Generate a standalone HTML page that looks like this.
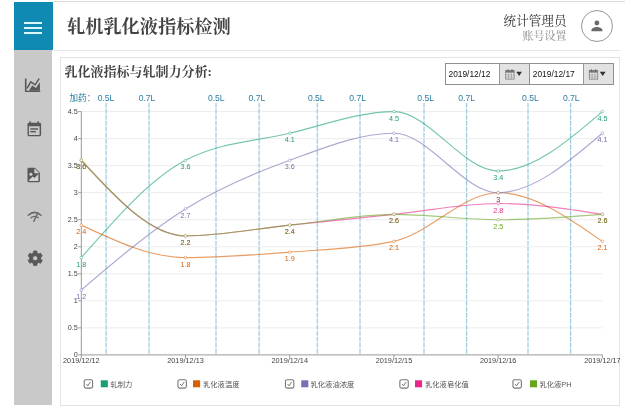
<!DOCTYPE html>
<html lang="zh-CN"><head><meta charset="utf-8"><title>轧机乳化液指标检测</title>
<style>
html,body{margin:0;padding:0;background:#fff;}
body{width:640px;height:411px;position:relative;overflow:hidden;font-family:"Liberation Sans","Noto Sans CJK SC",sans-serif;color:#333;}
.menu{position:absolute;left:14px;top:2px;width:39px;height:48px;background:#118ab3;}
.menu i{position:absolute;left:10.2px;width:18px;height:2.4px;background:#d9f7ff;}
.side{position:absolute;left:13.5px;top:50px;width:38.5px;height:355px;background:#c9c9c9;}
.head{position:absolute;left:52.5px;top:0.5px;width:572.5px;height:50px;border-top:1px solid #dcdcdc;background:#fff;box-sizing:border-box;}
.head:after{content:'';position:absolute;left:0;bottom:0;width:567px;height:1px;background:#e6e6e6;}
.title{position:absolute;left:67px;top:14.6px;font-family:"Liberation Serif","Noto Serif CJK SC",serif;font-weight:700;font-size:18.2px;line-height:24px;color:#444;white-space:nowrap;}
.user{position:absolute;right:73.5px;top:13.6px;text-align:right;font-family:"Liberation Serif","Noto Serif CJK SC",serif;white-space:nowrap;}
.user b{display:block;font-weight:400;font-size:12.6px;line-height:15px;color:#333;}
.user span{display:block;font-size:11px;line-height:14px;color:#8a8a8a;margin-top:0.8px;}
.avatar{position:absolute;left:581.4px;top:10.3px;width:32px;height:32px;box-sizing:border-box;border:1px solid #999;border-radius:50%;background:#fff;}
.card{position:absolute;left:59.5px;top:57px;width:560px;height:348.5px;box-sizing:border-box;border:1px solid #e3e3e3;background:#fff;}
.ctitle{position:absolute;left:64.6px;top:63px;font-family:"Liberation Serif","Noto Serif CJK SC",serif;font-weight:700;font-size:13px;line-height:18px;color:#444;white-space:nowrap;}
.date{position:absolute;top:63.4px;height:21.2px;box-sizing:border-box;border:1px solid #8f8f8f;background:#fff;font-size:8.4px;line-height:19px;color:#111;}
.date span{position:absolute;left:2.8px;top:0.4px;}
.date em{position:absolute;right:0;top:0;bottom:0;width:29.4px;background:#e2e2e2;border-left:1px solid #999;}
svg.chart{position:absolute;left:0;top:0;}
.dl{font-size:8.6px;fill:#2a7d9f;font-family:"Liberation Sans","Noto Sans CJK SC",sans-serif;}
.yl{font-size:7.2px;fill:#444;}
.xl{font-size:7.3px;fill:#444;}
.pl{font-size:7.2px;}
.lg{font-size:7.3px;fill:#555;font-family:"Liberation Sans","Noto Sans CJK SC",sans-serif;}
</style></head><body>
<div class="menu"><i style="top:19.6px"></i><i style="top:24.7px"></i><i style="top:30px"></i></div>
<div class="side"></div>
<div class="head"></div>
<div class="title">轧机乳化液指标检测</div>
<div class="user"><b>统计管理员</b><span>账号设置</span></div>
<div class="avatar"></div>
<div class="card"></div>
<div class="ctitle">乳化液指标与轧制力分析:</div>
<div class="date" style="left:444.7px;width:85.3px;"><span>2019/12/12</span><em></em></div>
<div class="date" style="left:529px;width:85.1px;"><span>2019/12/17</span><em></em></div>
<svg class="chart" width="640" height="411" viewBox="0 0 640 411" font-family="Liberation Sans, sans-serif">
<g fill="#585858" stroke="none">
<!-- area chart icon -->
<path d="M24.9,78.6h1.6v12.1h13.8v1.3H24.9z"/>
<path d="M28.9,90.7L32.2,85.6L35.9,87.9L39.9,82.2V90.7z"/>
<path d="M27,88.4L30.8,81.9L35.1,84.8L39.2,78.6" fill="none" stroke="#585858" stroke-width="1.5" stroke-linejoin="miter"/>
<!-- calendar icon -->
<path d="M29.4,121.3h1.4v1.5h6.6v-1.5h1.4v1.5h0.9a1.4,1.4 0 0 1 1.4,1.4v10.6a1.4,1.4 0 0 1 -1.4,1.4h-10.8a1.4,1.4 0 0 1 -1.4,-1.4v-10.6a1.4,1.4 0 0 1 1.4,-1.4h0.5zM28.9,126.2v8.7h10.7v-8.7z" fill-rule="evenodd"/>
<rect x="30.3" y="128.3" width="7.7" height="1.4"/>
<rect x="30.3" y="131" width="5.6" height="1.4"/>
<!-- file image icon -->
<path d="M28.9,167.7h5.9l5.1,5.1v8.1a1.4,1.4 0 0 1 -1.4,1.4h-9.6a1.4,1.4 0 0 1 -1.4,-1.4v-11.8a1.4,1.4 0 0 1 1.4,-1.4z"/>
<path d="M34.4,168.4v4.9h4.9z" fill="#d2d2d2"/>
<circle cx="30.9" cy="174.3" r="1.55" fill="#d2d2d2"/>
<path d="M29.2,181v-1.2l3.6,-3.4l1.6,1.5l4,-3.9v7z" fill="#d2d2d2"/>
<!-- wifi icon -->
<g fill="none" stroke="#686868" stroke-linecap="round">
<path d="M28.2,215.2Q34.6,209.6 41,215.2" stroke-width="1.5"/>
<path d="M31,217.8Q34.6,214.9 38.2,217.8" stroke-width="1.4"/>
<path d="M37.2,214.2L33.8,221.3" stroke-width="1.5"/>
</g>
<!-- gear icon -->
<path d="M33.38,252.91L33.54,250.99L36.86,250.99L37.02,252.91L38.87,253.97L40.61,253.15L42.28,256.04L40.70,257.13L40.70,259.27L42.28,260.36L40.61,263.25L38.87,262.43L37.02,263.49L36.86,265.41L33.54,265.41L33.38,263.49L31.53,262.43L29.79,263.25L28.12,260.36L29.70,259.27L29.70,257.13L28.12,256.04L29.79,253.15L31.53,253.97ZM32.70,258.20a2.50,2.50 0 1 0 5.00,0a2.50,2.50 0 1 0 -5.00,0Z" fill-rule="evenodd" stroke="#585858" stroke-width="0.8" stroke-linejoin="round"/>
</g>

<!-- avatar person -->
<g fill="#6a6a6a">
<circle cx="596.9" cy="23" r="2.4"/>
<path d="M591.4,31.3v-1.3c0,-2 3.6,-3.1 5.5,-3.1s5.5,1.1 5.5,3.1v1.3z"/>
</g>
<g><rect x="505.7" y="70.5" width="8.4" height="8.6" fill="#f0f0f0" stroke="#777" stroke-width="0.8"/><rect x="505.7" y="70.5" width="8.4" height="2.2" fill="#777"/><rect x="507.3" y="69.3" width="1.1" height="2" fill="#666"/><rect x="511.4" y="69.3" width="1.1" height="2" fill="#666"/><path d="M505.7,74.9h8.4M505.7,77.0h8.4M508.5,72.7v6.2M511.3,72.7v6.2" stroke="#888" stroke-width="0.6" fill="none"/><path d="M516.2,71.7h5.8l-2.9,4.4z" fill="#333"/></g><g transform="translate(-1.4,0)"><rect x="590.7" y="70.5" width="8.4" height="8.6" fill="#f0f0f0" stroke="#777" stroke-width="0.8"/><rect x="590.7" y="70.5" width="8.4" height="2.2" fill="#777"/><rect x="592.3" y="69.3" width="1.1" height="2" fill="#666"/><rect x="596.4" y="69.3" width="1.1" height="2" fill="#666"/><path d="M590.7,74.9h8.4M590.7,77.0h8.4M593.5,72.7v6.2M596.3,72.7v6.2" stroke="#888" stroke-width="0.6" fill="none"/><path d="M601.2,71.7h5.8l-2.9,4.4z" fill="#333"/></g>
<line x1="106.1" y1="103" x2="106.1" y2="354.9" stroke="#eef8fb" stroke-width="2.2"/>
<line x1="149" y1="103" x2="149" y2="354.9" stroke="#eef8fb" stroke-width="2.2"/>
<line x1="216" y1="103" x2="216" y2="354.9" stroke="#eef8fb" stroke-width="2.2"/>
<line x1="259.1" y1="103" x2="259.1" y2="354.9" stroke="#eef8fb" stroke-width="2.2"/>
<line x1="317.3" y1="103" x2="317.3" y2="354.9" stroke="#eef8fb" stroke-width="2.2"/>
<line x1="360" y1="103" x2="360" y2="354.9" stroke="#eef8fb" stroke-width="2.2"/>
<line x1="424" y1="103" x2="424" y2="354.9" stroke="#eef8fb" stroke-width="2.2"/>
<line x1="466.6" y1="103" x2="466.6" y2="354.9" stroke="#eef8fb" stroke-width="2.2"/>
<line x1="528" y1="103" x2="528" y2="354.9" stroke="#eef8fb" stroke-width="2.2"/>
<line x1="570.6" y1="103" x2="570.6" y2="354.9" stroke="#eef8fb" stroke-width="2.2"/>
<line x1="81.3" y1="327.87" x2="602.4" y2="327.87" stroke="#ececec" stroke-width="1"/>
<line x1="81.3" y1="300.83" x2="602.4" y2="300.83" stroke="#ececec" stroke-width="1"/>
<line x1="81.3" y1="273.8" x2="602.4" y2="273.8" stroke="#ececec" stroke-width="1"/>
<line x1="81.3" y1="246.77" x2="602.4" y2="246.77" stroke="#ececec" stroke-width="1"/>
<line x1="81.3" y1="219.73" x2="602.4" y2="219.73" stroke="#ececec" stroke-width="1"/>
<line x1="81.3" y1="192.7" x2="602.4" y2="192.7" stroke="#ececec" stroke-width="1"/>
<line x1="81.3" y1="165.67" x2="602.4" y2="165.67" stroke="#ececec" stroke-width="1"/>
<line x1="81.3" y1="138.63" x2="602.4" y2="138.63" stroke="#ececec" stroke-width="1"/>
<line x1="81.3" y1="111.6" x2="602.4" y2="111.6" stroke="#ececec" stroke-width="1"/>
<line x1="106.1" y1="103" x2="106.1" y2="354.9" stroke="#7bbad0" stroke-width="0.8" stroke-dasharray="4.5,1.5"/>
<text x="106" y="100.7" text-anchor="middle" class="dl">0.5L</text>
<line x1="149" y1="103" x2="149" y2="354.9" stroke="#7bbad0" stroke-width="0.8" stroke-dasharray="4.5,1.5"/>
<text x="147" y="100.7" text-anchor="middle" class="dl">0.7L</text>
<line x1="216" y1="103" x2="216" y2="354.9" stroke="#7bbad0" stroke-width="0.8" stroke-dasharray="4.5,1.5"/>
<text x="216.25" y="100.7" text-anchor="middle" class="dl">0.5L</text>
<line x1="259.1" y1="103" x2="259.1" y2="354.9" stroke="#7bbad0" stroke-width="0.8" stroke-dasharray="4.5,1.5"/>
<text x="256.9" y="100.7" text-anchor="middle" class="dl">0.7L</text>
<line x1="317.3" y1="103" x2="317.3" y2="354.9" stroke="#7bbad0" stroke-width="0.8" stroke-dasharray="4.5,1.5"/>
<text x="316.25" y="100.7" text-anchor="middle" class="dl">0.5L</text>
<line x1="360" y1="103" x2="360" y2="354.9" stroke="#7bbad0" stroke-width="0.8" stroke-dasharray="4.5,1.5"/>
<text x="357.6" y="100.7" text-anchor="middle" class="dl">0.7L</text>
<line x1="424" y1="103" x2="424" y2="354.9" stroke="#7bbad0" stroke-width="0.8" stroke-dasharray="4.5,1.5"/>
<text x="425.6" y="100.7" text-anchor="middle" class="dl">0.5L</text>
<line x1="466.6" y1="103" x2="466.6" y2="354.9" stroke="#7bbad0" stroke-width="0.8" stroke-dasharray="4.5,1.5"/>
<text x="466.6" y="100.7" text-anchor="middle" class="dl">0.7L</text>
<line x1="528" y1="103" x2="528" y2="354.9" stroke="#7bbad0" stroke-width="0.8" stroke-dasharray="4.5,1.5"/>
<text x="530.4" y="100.7" text-anchor="middle" class="dl">0.5L</text>
<line x1="570.6" y1="103" x2="570.6" y2="354.9" stroke="#7bbad0" stroke-width="0.8" stroke-dasharray="4.5,1.5"/>
<text x="571.25" y="100.7" text-anchor="middle" class="dl">0.7L</text>
<text x="69.5" y="100.7" class="dl">加药：</text>
<line x1="81.3" y1="111.6" x2="81.3" y2="354.9" stroke="#999" stroke-width="1"/>
<line x1="81.3" y1="354.9" x2="602.4" y2="354.9" stroke="#999" stroke-width="1"/>
<line x1="78.3" y1="354.9" x2="81.3" y2="354.9" stroke="#999" stroke-width="1"/>
<text x="77.7" y="357.2" text-anchor="end" class="yl">0</text>
<line x1="78.3" y1="327.87" x2="81.3" y2="327.87" stroke="#999" stroke-width="1"/>
<text x="77.7" y="330.17" text-anchor="end" class="yl">0.5</text>
<line x1="78.3" y1="300.83" x2="81.3" y2="300.83" stroke="#999" stroke-width="1"/>
<text x="77.7" y="303.13" text-anchor="end" class="yl">1</text>
<line x1="78.3" y1="273.8" x2="81.3" y2="273.8" stroke="#999" stroke-width="1"/>
<text x="77.7" y="276.1" text-anchor="end" class="yl">1.5</text>
<line x1="78.3" y1="246.77" x2="81.3" y2="246.77" stroke="#999" stroke-width="1"/>
<text x="77.7" y="249.07" text-anchor="end" class="yl">2</text>
<line x1="78.3" y1="219.73" x2="81.3" y2="219.73" stroke="#999" stroke-width="1"/>
<text x="77.7" y="222.03" text-anchor="end" class="yl">2.5</text>
<line x1="78.3" y1="192.7" x2="81.3" y2="192.7" stroke="#999" stroke-width="1"/>
<text x="77.7" y="195" text-anchor="end" class="yl">3</text>
<line x1="78.3" y1="165.67" x2="81.3" y2="165.67" stroke="#999" stroke-width="1"/>
<text x="77.7" y="167.97" text-anchor="end" class="yl">3.5</text>
<line x1="78.3" y1="138.63" x2="81.3" y2="138.63" stroke="#999" stroke-width="1"/>
<text x="77.7" y="140.93" text-anchor="end" class="yl">4</text>
<line x1="78.3" y1="111.6" x2="81.3" y2="111.6" stroke="#999" stroke-width="1"/>
<text x="77.7" y="113.9" text-anchor="end" class="yl">4.5</text>
<line x1="81.3" y1="354.9" x2="81.3" y2="357.9" stroke="#999" stroke-width="1"/>
<text x="81.3" y="363.4" text-anchor="middle" class="xl">2019/12/12</text>
<line x1="185.52" y1="354.9" x2="185.52" y2="357.9" stroke="#999" stroke-width="1"/>
<text x="185.52" y="363.4" text-anchor="middle" class="xl">2019/12/13</text>
<line x1="289.74" y1="354.9" x2="289.74" y2="357.9" stroke="#999" stroke-width="1"/>
<text x="289.74" y="363.4" text-anchor="middle" class="xl">2019/12/14</text>
<line x1="393.96" y1="354.9" x2="393.96" y2="357.9" stroke="#999" stroke-width="1"/>
<text x="393.96" y="363.4" text-anchor="middle" class="xl">2019/12/15</text>
<line x1="498.18" y1="354.9" x2="498.18" y2="357.9" stroke="#999" stroke-width="1"/>
<text x="498.18" y="363.4" text-anchor="middle" class="xl">2019/12/16</text>
<line x1="602.4" y1="354.9" x2="602.4" y2="357.9" stroke="#999" stroke-width="1"/>
<text x="602.4" y="363.4" text-anchor="middle" class="xl">2019/12/17</text>
<path d="M81.3,257.58C116.04,217.93,150.78,178.28,185.52,160.26C220.26,142.24,255,141.34,289.74,133.23C324.48,125.12,359.22,111.6,393.96,111.6C428.7,111.6,463.44,171.07,498.18,171.07C532.92,171.07,567.66,141.34,602.4,111.6" fill="none" stroke="#1b9e77" stroke-opacity="0.6" stroke-width="1.15"/>
<path d="M81.3,225.14C116.04,241.36,150.78,257.58,185.52,257.58C220.26,257.58,255,254.88,289.74,252.17C324.48,249.47,359.22,248.57,393.96,241.36C428.7,234.15,463.44,192.7,498.18,192.7C532.92,192.7,567.66,217.03,602.4,241.36" fill="none" stroke="#d95f02" stroke-opacity="0.6" stroke-width="1.15"/>
<path d="M81.3,290.02C116.04,260.28,150.78,230.55,185.52,208.92C220.26,187.29,255,172.88,289.74,160.26C324.48,147.64,359.22,133.23,393.96,133.23C428.7,133.23,463.44,192.7,498.18,192.7C532.92,192.7,567.66,162.96,602.4,133.23" fill="none" stroke="#7570b3" stroke-opacity="0.6" stroke-width="1.15"/>
<path d="M81.3,160.26C116.04,198.11,150.78,235.95,185.52,235.95C220.26,235.95,255,228.74,289.74,225.14C324.48,221.54,359.22,217.93,393.96,214.33C428.7,210.72,463.44,203.51,498.18,203.51C532.92,203.51,567.66,208.92,602.4,214.33" fill="none" stroke="#e7298a" stroke-opacity="0.6" stroke-width="1.15"/>
<path d="M81.3,160.26C116.04,198.11,150.78,235.95,185.52,235.95C220.26,235.95,255,228.74,289.74,225.14C324.48,221.54,359.22,214.33,393.96,214.33C428.7,214.33,463.44,219.73,498.18,219.73C532.92,219.73,567.66,217.03,602.4,214.33" fill="none" stroke="#66a61e" stroke-opacity="0.6" stroke-width="1.15"/>
<circle cx="81.3" cy="257.58" r="1.35" fill="#fff" stroke="#1b9e77" stroke-opacity="0.55" stroke-width="0.8"/>
<text x="81.3" y="266.68" text-anchor="middle" class="pl" fill="#1b9e77">1.8</text>
<circle cx="185.52" cy="160.26" r="1.35" fill="#fff" stroke="#1b9e77" stroke-opacity="0.55" stroke-width="0.8"/>
<text x="185.52" y="169.36" text-anchor="middle" class="pl" fill="#1b9e77">3.6</text>
<circle cx="289.74" cy="133.23" r="1.35" fill="#fff" stroke="#1b9e77" stroke-opacity="0.55" stroke-width="0.8"/>
<text x="289.74" y="142.33" text-anchor="middle" class="pl" fill="#1b9e77">4.1</text>
<circle cx="393.96" cy="111.6" r="1.35" fill="#fff" stroke="#1b9e77" stroke-opacity="0.55" stroke-width="0.8"/>
<text x="393.96" y="120.7" text-anchor="middle" class="pl" fill="#1b9e77">4.5</text>
<circle cx="498.18" cy="171.07" r="1.35" fill="#fff" stroke="#1b9e77" stroke-opacity="0.55" stroke-width="0.8"/>
<text x="498.18" y="180.17" text-anchor="middle" class="pl" fill="#1b9e77">3.4</text>
<circle cx="602.4" cy="111.6" r="1.35" fill="#fff" stroke="#1b9e77" stroke-opacity="0.55" stroke-width="0.8"/>
<text x="602.4" y="120.7" text-anchor="middle" class="pl" fill="#1b9e77">4.5</text>
<circle cx="81.3" cy="225.14" r="1.35" fill="#fff" stroke="#d95f02" stroke-opacity="0.55" stroke-width="0.8"/>
<text x="81.3" y="234.24" text-anchor="middle" class="pl" fill="#d95f02">2.4</text>
<circle cx="185.52" cy="257.58" r="1.35" fill="#fff" stroke="#d95f02" stroke-opacity="0.55" stroke-width="0.8"/>
<text x="185.52" y="266.68" text-anchor="middle" class="pl" fill="#d95f02">1.8</text>
<circle cx="289.74" cy="252.17" r="1.35" fill="#fff" stroke="#d95f02" stroke-opacity="0.55" stroke-width="0.8"/>
<text x="289.74" y="261.27" text-anchor="middle" class="pl" fill="#d95f02">1.9</text>
<circle cx="393.96" cy="241.36" r="1.35" fill="#fff" stroke="#d95f02" stroke-opacity="0.55" stroke-width="0.8"/>
<text x="393.96" y="250.46" text-anchor="middle" class="pl" fill="#d95f02">2.1</text>
<circle cx="498.18" cy="192.7" r="1.35" fill="#fff" stroke="#d95f02" stroke-opacity="0.55" stroke-width="0.8"/>
<text x="498.18" y="201.8" text-anchor="middle" class="pl" fill="#d95f02">3</text>
<circle cx="602.4" cy="241.36" r="1.35" fill="#fff" stroke="#d95f02" stroke-opacity="0.55" stroke-width="0.8"/>
<text x="602.4" y="250.46" text-anchor="middle" class="pl" fill="#d95f02">2.1</text>
<circle cx="81.3" cy="290.02" r="1.35" fill="#fff" stroke="#7570b3" stroke-opacity="0.55" stroke-width="0.8"/>
<text x="81.3" y="299.12" text-anchor="middle" class="pl" fill="#7570b3">1.2</text>
<circle cx="185.52" cy="208.92" r="1.35" fill="#fff" stroke="#7570b3" stroke-opacity="0.55" stroke-width="0.8"/>
<text x="185.52" y="218.02" text-anchor="middle" class="pl" fill="#7570b3">2.7</text>
<circle cx="289.74" cy="160.26" r="1.35" fill="#fff" stroke="#7570b3" stroke-opacity="0.55" stroke-width="0.8"/>
<text x="289.74" y="169.36" text-anchor="middle" class="pl" fill="#7570b3">3.6</text>
<circle cx="393.96" cy="133.23" r="1.35" fill="#fff" stroke="#7570b3" stroke-opacity="0.55" stroke-width="0.8"/>
<text x="393.96" y="142.33" text-anchor="middle" class="pl" fill="#7570b3">4.1</text>
<circle cx="498.18" cy="192.7" r="1.35" fill="#fff" stroke="#7570b3" stroke-opacity="0.55" stroke-width="0.8"/>
<text x="498.18" y="201.8" text-anchor="middle" class="pl" fill="#7570b3">3</text>
<circle cx="602.4" cy="133.23" r="1.35" fill="#fff" stroke="#7570b3" stroke-opacity="0.55" stroke-width="0.8"/>
<text x="602.4" y="142.33" text-anchor="middle" class="pl" fill="#7570b3">4.1</text>
<circle cx="81.3" cy="160.26" r="1.35" fill="#fff" stroke="#e7298a" stroke-opacity="0.55" stroke-width="0.8"/>
<text x="81.3" y="169.36" text-anchor="middle" class="pl" fill="#e7298a">3.6</text>
<circle cx="185.52" cy="235.95" r="1.35" fill="#fff" stroke="#e7298a" stroke-opacity="0.55" stroke-width="0.8"/>
<text x="185.52" y="245.05" text-anchor="middle" class="pl" fill="#e7298a">2.2</text>
<circle cx="289.74" cy="225.14" r="1.35" fill="#fff" stroke="#e7298a" stroke-opacity="0.55" stroke-width="0.8"/>
<text x="289.74" y="234.24" text-anchor="middle" class="pl" fill="#e7298a">2.4</text>
<circle cx="393.96" cy="214.33" r="1.35" fill="#fff" stroke="#e7298a" stroke-opacity="0.55" stroke-width="0.8"/>
<text x="393.96" y="223.43" text-anchor="middle" class="pl" fill="#e7298a">2.6</text>
<circle cx="498.18" cy="203.51" r="1.35" fill="#fff" stroke="#e7298a" stroke-opacity="0.55" stroke-width="0.8"/>
<text x="498.18" y="212.61" text-anchor="middle" class="pl" fill="#e7298a">2.8</text>
<circle cx="602.4" cy="214.33" r="1.35" fill="#fff" stroke="#e7298a" stroke-opacity="0.55" stroke-width="0.8"/>
<text x="602.4" y="223.43" text-anchor="middle" class="pl" fill="#e7298a">2.6</text>
<circle cx="81.3" cy="160.26" r="1.35" fill="#fff" stroke="#66a61e" stroke-opacity="0.55" stroke-width="0.8"/>
<text x="81.3" y="169.36" text-anchor="middle" class="pl" fill="#66a61e">3.6</text>
<circle cx="185.52" cy="235.95" r="1.35" fill="#fff" stroke="#66a61e" stroke-opacity="0.55" stroke-width="0.8"/>
<text x="185.52" y="245.05" text-anchor="middle" class="pl" fill="#66a61e">2.2</text>
<circle cx="289.74" cy="225.14" r="1.35" fill="#fff" stroke="#66a61e" stroke-opacity="0.55" stroke-width="0.8"/>
<text x="289.74" y="234.24" text-anchor="middle" class="pl" fill="#66a61e">2.4</text>
<circle cx="393.96" cy="214.33" r="1.35" fill="#fff" stroke="#66a61e" stroke-opacity="0.55" stroke-width="0.8"/>
<text x="393.96" y="223.43" text-anchor="middle" class="pl" fill="#66a61e">2.6</text>
<circle cx="498.18" cy="219.73" r="1.35" fill="#fff" stroke="#66a61e" stroke-opacity="0.55" stroke-width="0.8"/>
<text x="498.18" y="228.83" text-anchor="middle" class="pl" fill="#66a61e">2.5</text>
<circle cx="602.4" cy="214.33" r="1.35" fill="#fff" stroke="#66a61e" stroke-opacity="0.55" stroke-width="0.8"/>
<text x="602.4" y="223.43" text-anchor="middle" class="pl" fill="#66a61e">2.6</text>
<rect x="84.2" y="379.7" width="8.4" height="8.4" rx="1.6" fill="#fff" stroke="#777" stroke-width="1.1"/>
<path d="M86.35,384l1.5,1.8l2.6,-3.9" fill="none" stroke="#555" stroke-width="0.8"/>
<rect x="100.75" y="380.3" width="7.1" height="7" fill="#1b9e77"/>
<text x="110.5" y="386.6" class="lg">轧制力</text>
<rect x="177.95" y="379.7" width="8.4" height="8.4" rx="1.6" fill="#fff" stroke="#777" stroke-width="1.1"/>
<path d="M180.1,384l1.5,1.8l2.6,-3.9" fill="none" stroke="#555" stroke-width="0.8"/>
<rect x="193" y="380.3" width="7.1" height="7" fill="#d95f02"/>
<text x="203" y="386.6" class="lg">乳化液温度</text>
<rect x="285.45" y="379.7" width="8.4" height="8.4" rx="1.6" fill="#fff" stroke="#777" stroke-width="1.1"/>
<path d="M287.6,384l1.5,1.8l2.6,-3.9" fill="none" stroke="#555" stroke-width="0.8"/>
<rect x="301.25" y="380.3" width="7.1" height="7" fill="#7570b3"/>
<text x="310.5" y="386.6" class="lg">乳化液油浓度</text>
<rect x="399.85" y="379.7" width="8.4" height="8.4" rx="1.6" fill="#fff" stroke="#777" stroke-width="1.1"/>
<path d="M402,384l1.5,1.8l2.6,-3.9" fill="none" stroke="#555" stroke-width="0.8"/>
<rect x="415" y="380.3" width="7.1" height="7" fill="#e7298a"/>
<text x="425" y="386.6" class="lg">乳化液皂化值</text>
<rect x="512.95" y="379.7" width="8.4" height="8.4" rx="1.6" fill="#fff" stroke="#777" stroke-width="1.1"/>
<path d="M515.1,384l1.5,1.8l2.6,-3.9" fill="none" stroke="#555" stroke-width="0.8"/>
<rect x="530" y="380.3" width="7.1" height="7" fill="#66a61e"/>
<text x="539.4" y="386.6" class="lg">乳化液PH</text>
</svg>
</body></html>
